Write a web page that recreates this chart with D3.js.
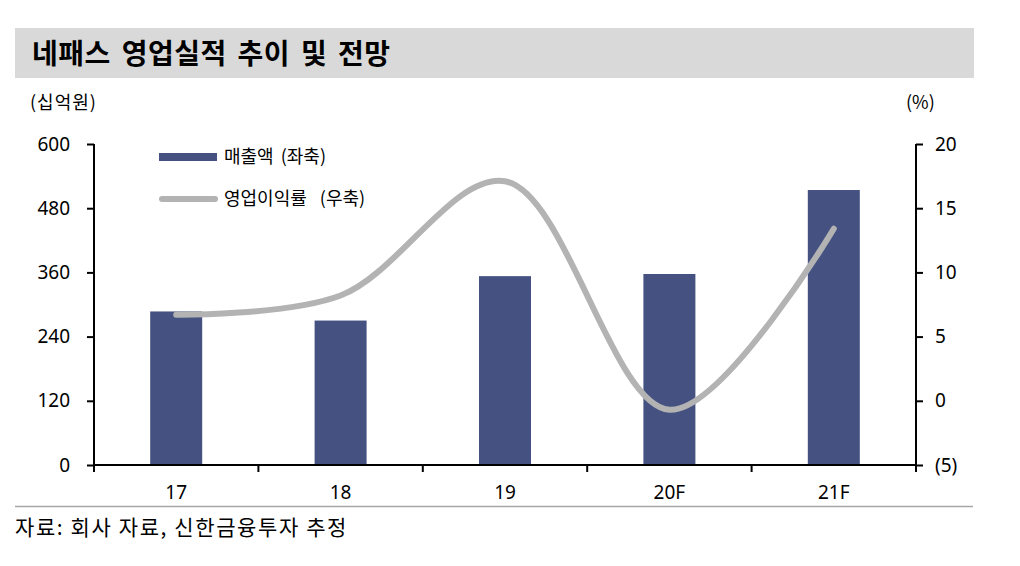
<!DOCTYPE html>
<html>
    <head>
        <title>네패스 영업실적 추이 및 전망</title>
        <meta charset="UTF-8">
        <script type="text/javascript" src="https://cdn.jsdelivr.net/npm/d3@7"></script>
        <style type="text/css">
            body { margin: 0; background: #fff; }
            text { font-family: "Noto Sans CJK KR", "Noto Sans", sans-serif; fill: #000; }
        </style>
    </head>
    <body>
        <div id="chart"></div>

        <script type="text/javascript">
            // data
            var years = ["17", "18", "19", "20F", "21F"];
            var sales = [287, 270, 353, 357, 514];          // 십억원, left axis
            var opMargin = [6.7, 8.2, 17.1, -0.7, 13.4];    // %, right axis
            var leftTicks = [0, 120, 240, 360, 480, 600];
            var rightTicks = [-5, 0, 5, 10, 15, 20];

            var svgW = 1020, svgH = 566;
            var x0 = 94, x1 = 916;      // plot left / right
            var yTop = 144, yBot = 465; // plot top / bottom

            var svg = d3.select("#chart").append("svg")
                    .attr("width", svgW)
                    .attr("height", svgH);

            // title bar
            svg.append("rect")
                    .attr("x", 15).attr("y", 28)
                    .attr("width", 959).attr("height", 50)
                    .attr("fill", "#d9d9d9");
            svg.append("text")
                    .attr("x", 32).attr("y", 64)
                    .style("font-size", "28px")
                    .style("font-weight", "bold")
                    .style("letter-spacing", "0.5px")
                    .style("word-spacing", "4px")
                    .text("네패스 영업실적 추이 및 전망");

            // unit labels
            svg.append("text")
                    .attr("x", 30).attr("y", 109)
                    .style("font-size", "18px")
                    .style("letter-spacing", "1px")
                    .text("(십억원)");
            svg.append("text")
                    .attr("x", 906).attr("y", 109)
                    .style("font-size", "18px")
                    .text("(%)");

            var xScale = d3.scaleBand()
                    .domain(years)
                    .range([x0, x1]);
            var yLeft = d3.scaleLinear()
                    .domain([0, 600])
                    .range([yBot, yTop]);
            var yRight = d3.scaleLinear()
                    .domain([-5, 20])
                    .range([yBot, yTop]);

            var barW = 52;

            // bars
            svg.selectAll("rect.bar")
                    .data(sales)
                    .enter()
                    .append("rect")
                    .attr("class", "bar")
                    .attr("x", function (d, i) {
                        return xScale(years[i]) + xScale.bandwidth() / 2 - barW / 2;
                    })
                    .attr("y", function (d) {
                        return yLeft(d);
                    })
                    .attr("width", barW)
                    .attr("height", function (d) {
                        return yBot - yLeft(d);
                    })
                    .attr("fill", "#455281");

            // line (smoothed, like excel)
            var line = d3.line()
                    .x(function (d, i) {
                        return xScale(years[i]) + xScale.bandwidth() / 2;
                    })
                    .y(function (d) {
                        return yRight(d);
                    })
                    .curve(d3.curveCatmullRom.alpha(0.5));

            svg.append("path")
                    .datum(opMargin)
                    .attr("d", line)
                    .attr("fill", "none")
                    .attr("stroke", "#b3b3b3")
                    .attr("stroke-width", 6)
                    .attr("stroke-linecap", "round");

            // left axis
            var gL = svg.append("g")
                    .attr("transform", "translate(" + x0 + ",0)")
                    .call(d3.axisLeft(yLeft).tickValues(leftTicks).tickSize(7).tickPadding(17));
            // right axis
            var gR = svg.append("g")
                    .attr("transform", "translate(" + x1 + ",0)")
                    .call(d3.axisRight(yRight).tickValues(rightTicks).tickSize(7).tickPadding(12)
                            .tickFormat(function (d) {
                                return d < 0 ? "(" + (-d) + ")" : d;
                            }));
            // bottom axis: ticks at category boundaries
            var gB = svg.append("g")
                    .attr("transform", "translate(0," + yBot + ")");
            gB.append("line")
                    .attr("x1", x0).attr("x2", x1)
                    .attr("stroke", "#000").attr("stroke-width", 2);
            gB.selectAll("line.tk")
                    .data(d3.range(years.length + 1))
                    .enter()
                    .append("line")
                    .attr("class", "tk")
                    .attr("x1", function (i) { return x0 + i * xScale.step(); })
                    .attr("x2", function (i) { return x0 + i * xScale.step(); })
                    .attr("y1", 0).attr("y2", 7)
                    .attr("stroke", "#000").attr("stroke-width", 2);
            gB.selectAll("text")
                    .data(years)
                    .enter()
                    .append("text")
                    .attr("x", function (d) { return xScale(d) + xScale.bandwidth() / 2; })
                    .attr("y", 34)
                    .attr("text-anchor", "middle")
                    .style("font-size", "19px")
                    .style("font-family", "'Noto Sans', sans-serif")
                    .text(function (d) { return d; });

            [gL, gR].forEach(function (g) {
                g.select(".domain").attr("stroke", "#000").attr("stroke-width", 2)
                        .attr("d", g === gL ? "M0," + yTop + "V" + yBot : "M0," + yTop + "V" + (yBot + 7));
                g.selectAll(".tick line").attr("stroke", "#000").attr("stroke-width", 2);
                g.selectAll(".tick text")
                        .style("font-size", "19px")
                        .style("font-family", "'Noto Sans', sans-serif")
                        .attr("fill", "#000");
            });

            // legend
            svg.append("rect")
                    .attr("x", 159).attr("y", 153)
                    .attr("width", 58).attr("height", 8)
                    .attr("fill", "#455281");
            svg.append("text")
                    .attr("x", 224).attr("y", 163)
                    .style("font-size", "18px")
                    .style("word-spacing", "3px")
                    .text("매출액 (좌축)");
            svg.append("line")
                    .attr("x1", 162).attr("x2", 215)
                    .attr("y1", 199).attr("y2", 199)
                    .attr("stroke", "#b3b3b3")
                    .attr("stroke-width", 6)
                    .attr("stroke-linecap", "round");
            svg.append("text")
                    .attr("x", 224).attr("y", 205)
                    .style("font-size", "18px")
                    .style("word-spacing", "9px")
                    .text("영업이익률 (우축)");

            // source
            svg.append("line")
                    .attr("x1", 15).attr("x2", 973)
                    .attr("y1", 506.5).attr("y2", 506.5)
                    .attr("stroke", "#a6a6a6")
                    .attr("stroke-width", 1.5);
            svg.append("text")
                    .attr("x", 15).attr("y", 535)
                    .style("font-size", "21px")
                    .style("letter-spacing", "1.6px")
                    .text("자료: 회사 자료, 신한금융투자 추정");
        </script>
    </body>
</html>
